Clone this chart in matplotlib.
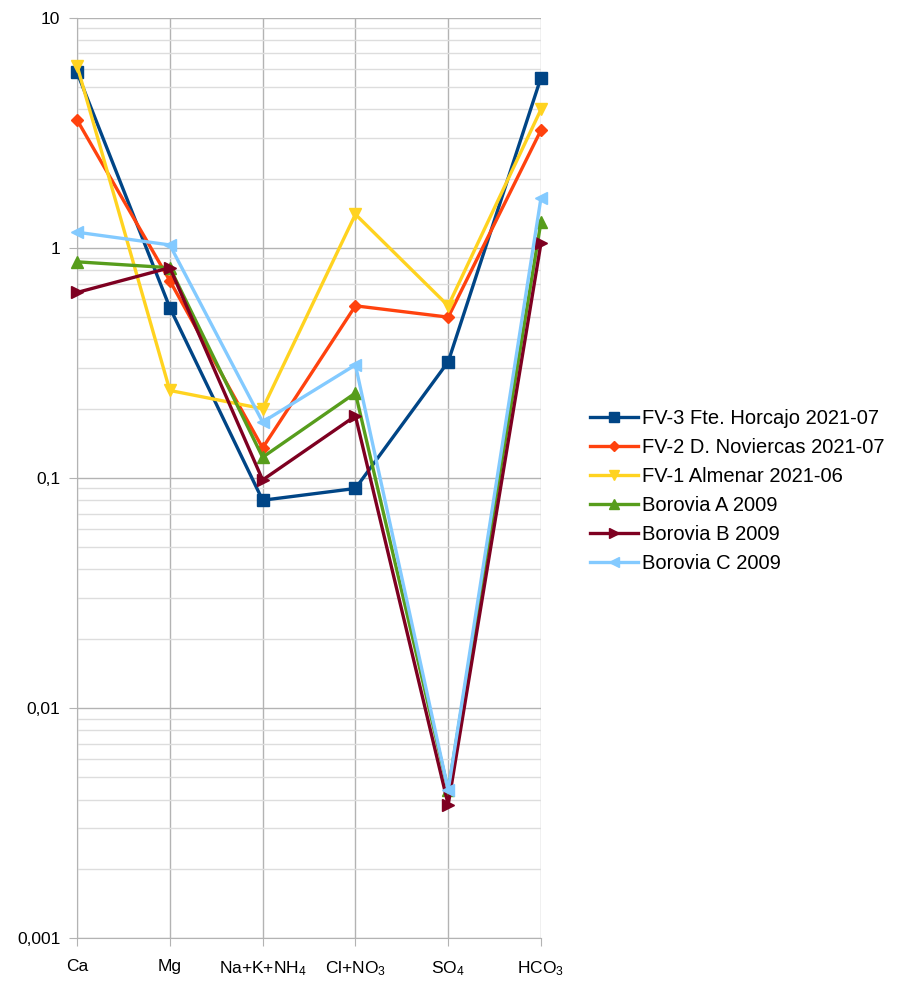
import numpy as np
import matplotlib.pyplot as plt
from matplotlib.ticker import FixedLocator, FixedFormatter, LogLocator, NullFormatter

plt.rcParams['font.family'] = ['Liberation Sans', 'DejaVu Sans']
plt.rcParams['mathtext.fontset'] = 'custom'
plt.rcParams['mathtext.rm'] = 'Liberation Sans'
plt.rcParams['mathtext.it'] = 'Liberation Sans'

categories = ['Ca', 'Mg', 'Na+K+NH$_4$', 'Cl+NO$_3$', 'SO$_4$', 'HCO$_3$']

fv3 = [5.8, 0.55, 0.080, 0.090, 0.32, 5.5]
fv2 = [3.6, 0.72, 0.135, 0.56, 0.50, 3.25]
fv1 = [6.2, 0.24, 0.20, 1.4, 0.56, 4.0]
borovia_a = [0.87, 0.82, 0.123, 0.234, 0.0044, 1.3]
borovia_b = [0.64, 0.82, 0.098, 0.186, 0.0038, 1.05]
borovia_c = [1.17, 1.03, 0.175, 0.31, 0.0044, 1.65]

series = [
    ('FV-3 Fte. Horcajo 2021-07', fv3, '#004586', 's'),
    ('FV-2 D. Noviercas 2021-07', fv2, '#ff420e', 'D'),
    ('FV-1 Almenar 2021-06', fv1, '#ffd320', 'v'),
    ('Borovia A 2009', borovia_a, '#579d1c', '^'),
    ('Borovia B 2009', borovia_b, '#7e0021', '>'),
    ('Borovia C 2009', borovia_c, '#83caff', '<'),
]

fig = plt.figure(figsize=(9, 9.81), dpi=100)
ax = fig.add_axes([0.0856, 0.0438, 0.5155, 0.938])

x = np.arange(len(categories))
for label, vals, color, marker in series:
    ms = 6 if marker == 'D' else 9
    ax.plot(x, vals, color=color, linewidth=2.4, marker=marker, markersize=ms,
            label=label, clip_on=False, zorder=3)

ax.set_yscale('log')
ax.set_ylim(0.001, 10)
ax.set_xlim(0, len(categories) - 1)

ax.yaxis.set_major_locator(FixedLocator([0.001, 0.01, 0.1, 1, 10]))
ax.yaxis.set_major_formatter(FixedFormatter(['0,001', '0,01', '0,1', '1', '10']))
ax.yaxis.set_minor_locator(LogLocator(base=10, subs=np.arange(2, 10)))
ax.yaxis.set_minor_formatter(NullFormatter())
ax.set_xticks(x)
ax.set_xticklabels(categories)

ax.grid(True, which='major', color='#b3b3b3', linewidth=1.0, zorder=0)
ax.grid(True, which='minor', axis='y', color='#dddddd', linewidth=1.0, zorder=0)
for s in ax.spines.values():
    s.set_visible(False)
ax.spines['left'].set_visible(True)
ax.spines['left'].set_color('#b3b3b3')
ax.spines['bottom'].set_visible(True)
ax.spines['bottom'].set_color('#b3b3b3')
ax.tick_params(axis='both', which='both', length=0, labelsize=12.5, colors='black', pad=6)
ax.tick_params(axis='y', which='major', length=6, color='#b3b3b3')
ax.tick_params(axis='x', which='major', length=6, color='#b3b3b3', pad=9)

ax.legend(loc='center left', bbox_to_anchor=(590 / 900, 0.4995), bbox_transform=fig.transFigure,
          frameon=False, fontsize=14.5, handlelength=2.4, handletextpad=0.2,
          labelspacing=0.5, borderpad=0, borderaxespad=0, markerscale=0.85)

fig.savefig('out.png', dpi=100)
